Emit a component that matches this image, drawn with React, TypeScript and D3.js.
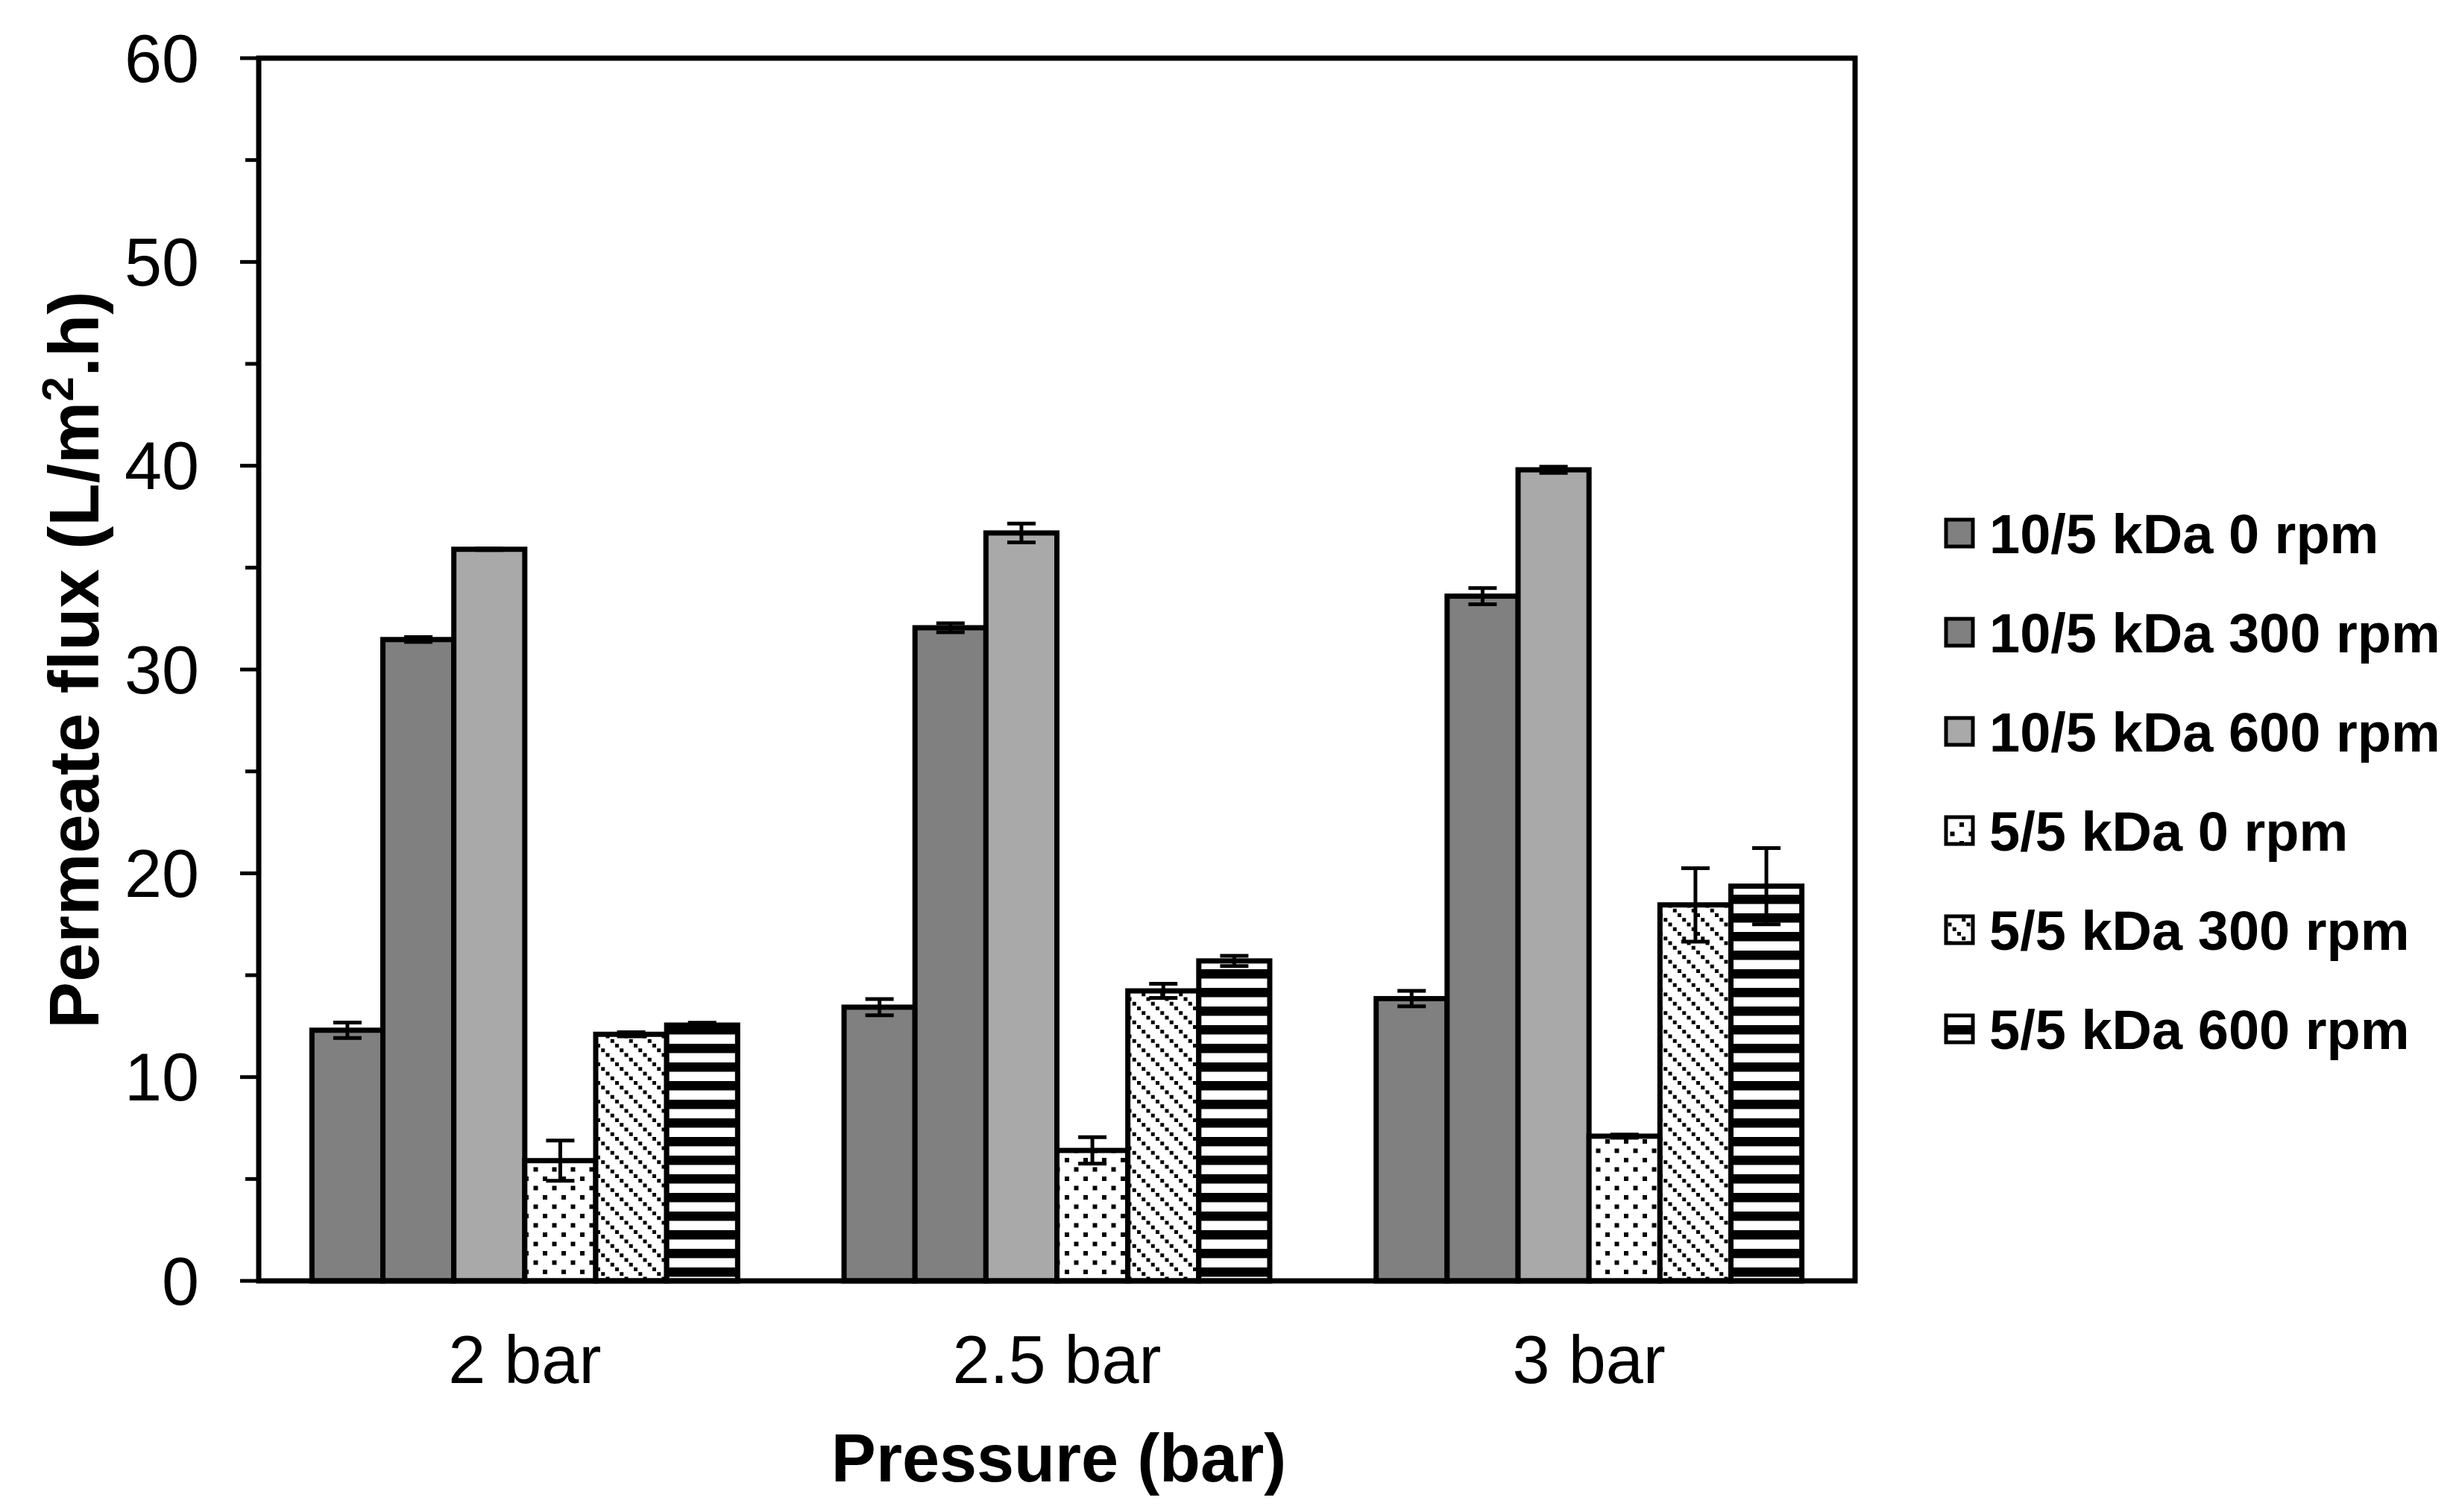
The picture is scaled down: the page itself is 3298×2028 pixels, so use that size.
import React from "react";
import * as d3 from "d3";

const categories = ["2 bar", "2.5 bar", "3 bar"];
const seriesNames = [
  "10/5 kDa 0 rpm",
  "10/5 kDa 300 rpm",
  "10/5 kDa 600 rpm",
  "5/5 kDa 0 rpm",
  "5/5 kDa 300 rpm",
  "5/5 kDa 600 rpm",
];
const flux10_0 = [12.3, 13.43, 13.85];
const flux10_300 = [31.47, 32.05, 33.6];
const flux10_600 = [35.9, 36.7, 39.8];
const flux5_0 = [5.9, 6.4, 7.1];
const flux5_300 = [12.1, 14.23, 18.45];
const flux5_600 = [12.55, 15.7, 19.37];
const err10_0 = [0.38, 0.4, 0.38];
const err10_300 = [0.12, 0.22, 0.4];
const err10_600 = [0.04, 0.46, 0.15];
const err5_0 = [0.99, 0.65, 0.08];
const err5_300 = [0.1, 0.35, 1.8];
const err5_600 = [0.12, 0.25, 1.87];
const yTicks = [0, 10, 20, 30, 40, 50, 60];
const yMinorTicks = [5, 15, 25, 35, 45, 55];

const seriesValues = [flux10_0, flux10_300, flux10_600, flux5_0, flux5_300, flux5_600];
const seriesErrors = [err10_0, err10_300, err10_600, err5_0, err5_300, err5_600];
const fills = ["#808080", "#808080", "#a9a9a9", "url(#pDots)", "url(#pDiag)", "url(#pStripes)"];

const FONT = "'Liberation Sans', Arial, Helvetica, sans-serif";

export default function App() {
  const W = 3298;
  const H = 2028;
  const left = 347;
  const right = 2488;
  const top = 78;
  const bottom = 1718;

  const x0 = d3.scaleBand<string>().domain(categories).range([left, right]).paddingInner(0.2).paddingOuter(0.1);
  const x1 = d3.scaleBand<number>().domain(d3.range(seriesNames.length)).range([0, x0.bandwidth()]).padding(0);
  const y = d3.scaleLinear().domain([0, 60]).range([bottom, top]);

  const bars: React.ReactNode[] = [];
  const errs: React.ReactNode[] = [];
  seriesValues.forEach((vals, si) => {
    vals.forEach((v, ci) => {
      const bx = (x0(categories[ci]) as number) + (x1(si) as number);
      const bw = x1.bandwidth();
      bars.push(
        <rect key={`b${si}-${ci}`} x={bx} y={y(v)} width={bw} height={y(0) - y(v)}
          fill={fills[si]} stroke="#000" strokeWidth={7} />
      );
      const e = seriesErrors[si][ci];
      const cx = bx + bw / 2;
      const capW = 38;
      errs.push(
        <g key={`e${si}-${ci}`} stroke="#000" strokeWidth={5}>
          <line x1={cx} x2={cx} y1={y(v + e)} y2={y(v - e)} />
          <line x1={cx - capW / 2} x2={cx + capW / 2} y1={y(v + e)} y2={y(v + e)} />
          <line x1={cx - capW / 2} x2={cx + capW / 2} y1={y(v - e)} y2={y(v - e)} />
        </g>
      );
    });
  });

  const legendX = 2610;
  const legendY0 = 715;
  const legendStep = 133;

  return (
    <svg width={W} height={H} viewBox={`0 0 ${W} ${H}`}
      style={{ position: "absolute", left: 0, top: 0, background: "#fff" }}>
      <defs>
        <pattern id="pDots" patternUnits="userSpaceOnUse" width={25} height={25}>
          <rect width={25} height={25} fill="#fff" />
          <rect x={3} y={3} width={6} height={6} fill="#000" />
          <rect x={15.5} y={15.5} width={6} height={6} fill="#000" />
        </pattern>
        <pattern id="pDiag" patternUnits="userSpaceOnUse" width={25} height={25}>
          <rect width={25} height={25} fill="#fff" />
          <rect x={0} y={0} width={5} height={5} fill="#000" />
          <rect x={6.25} y={6.25} width={5} height={5} fill="#000" />
          <rect x={12.5} y={12.5} width={5} height={5} fill="#000" />
          <rect x={18.75} y={18.75} width={5} height={5} fill="#000" />
        </pattern>
        <pattern id="pStripes" patternUnits="userSpaceOnUse" width={25} height={25}>
          <rect width={25} height={25} fill="#fff" />
          <rect x={0} y={0} width={25} height={12.5} fill="#000" />
        </pattern>
      </defs>
      <rect x={0} y={0} width={W} height={H} fill="#fff" />

      {bars}
      {errs}

      {/* plot frame */}
      <rect x={left} y={top} width={right - left} height={bottom - top} fill="none" stroke="#000" strokeWidth={7} />

      {/* y ticks */}
      {yTicks.map((t) => (
        <g key={`yt${t}`}>
          <line x1={left - 25} x2={left} y1={y(t)} y2={y(t)} stroke="#000" strokeWidth={5} />
          <text x={267} y={y(t)} dy="0.35em" textAnchor="end" fontFamily={FONT} fontSize={90} fill="#000">{t}</text>
        </g>
      ))}
      {yMinorTicks.map((t) => (
        <line key={`ym${t}`} x1={left - 18} x2={left} y1={y(t)} y2={y(t)} stroke="#000" strokeWidth={5} />
      ))}

      {/* category labels */}
      {categories.map((c) => (
        <text key={c} x={(x0(c) as number) + x0.bandwidth() / 2} y={1855} textAnchor="middle"
          fontFamily={FONT} fontSize={90} fill="#000">{c}</text>
      ))}

      {/* axis titles */}
      <text x={1420} y={1987} textAnchor="middle" fontFamily={FONT} fontSize={90} fontWeight="bold" fill="#000">
        Pressure (bar)
      </text>
      <text transform={`translate(132, 885) rotate(-90)`} textAnchor="middle" fontFamily={FONT} fontSize={94}
        fontWeight="bold" fill="#000">
        Permeate flux (L/m<tspan dy={-34} fontSize={60}>2</tspan><tspan dy={34}>.h)</tspan>
      </text>

      {/* legend */}
      {seriesNames.map((n, i) => (
        <g key={n}>
          <rect x={legendX} y={legendY0 + i * legendStep - 18} width={36} height={36}
            fill={fills[i]} stroke="#000" strokeWidth={5} />
          <text x={2668} y={legendY0 + i * legendStep} dy="0.36em" fontFamily={FONT} fontSize={74}
            fontWeight="bold" fill="#000">{n}</text>
        </g>
      ))}
    </svg>
  );
}
